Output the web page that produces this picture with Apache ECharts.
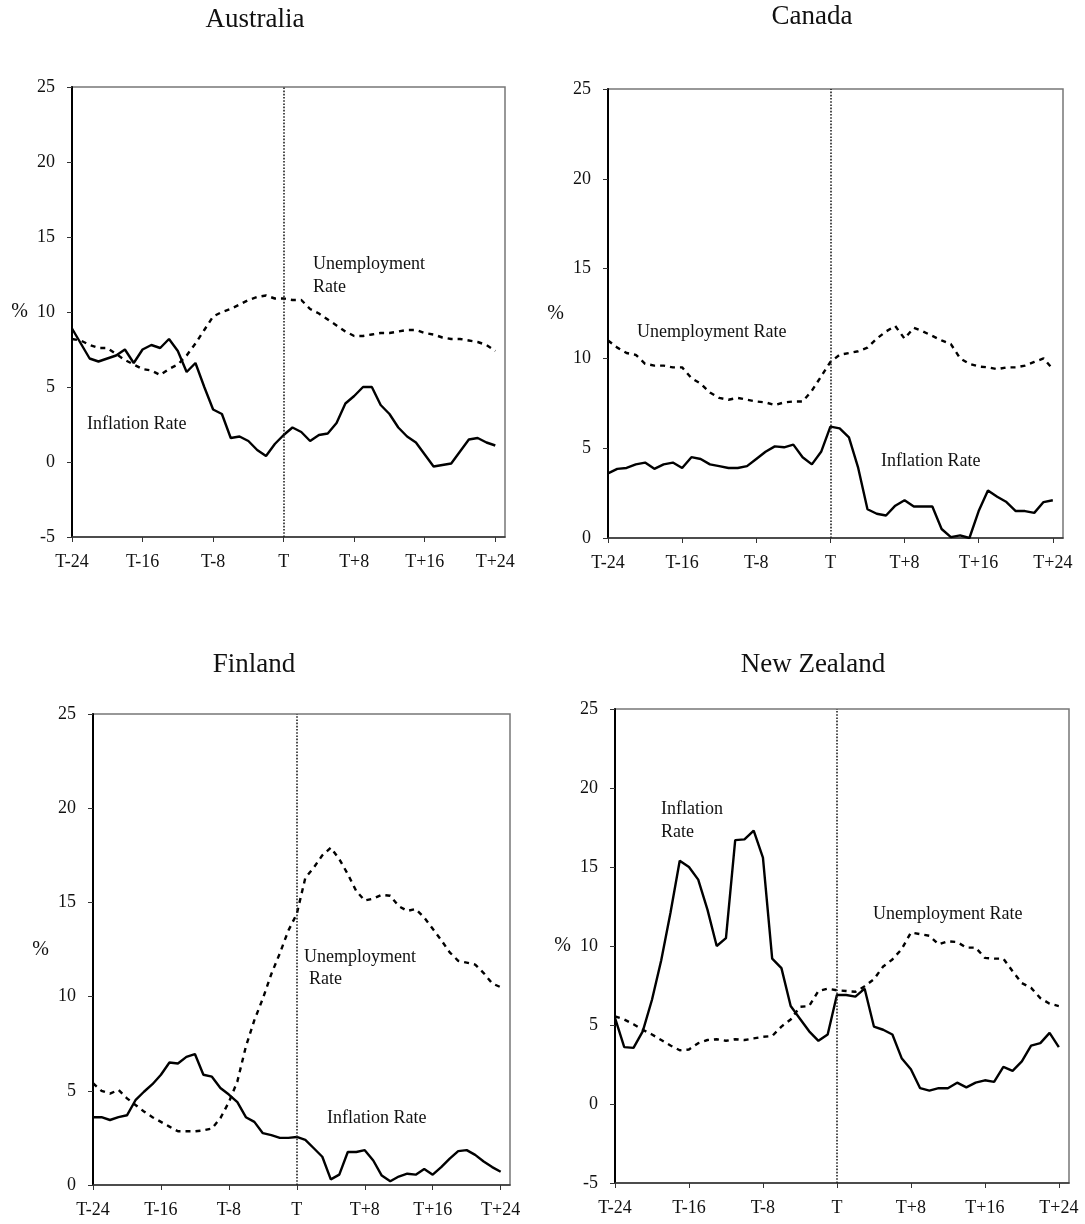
<!DOCTYPE html>
<html>
<head>
<meta charset="utf-8">
<script src="https://cdn.jsdelivr.net/npm/echarts@6/dist/echarts.min.js"></script>
<style>
  html, body { margin: 0; padding: 0; background: #fff; }
  #chart { width: 1085px; height: 1224px; }
</style>
</head>
<body>
<div id="chart"></div>
<script>
// quarters relative to the event date T
const quarters = Array.from({ length: 49 }, (_, i) => i - 24);
const tickValues = [-24, -16, -8, 0, 8, 16, 24];
const tickLabels = ["T-24", "T-16", "T-8", "T", "T+8", "T+16", "T+24"];

const ausInflation = [8.9, 7.9, 6.9, 6.7, 6.9, 7.1, 7.5, 6.6, 7.5, 7.8, 7.6, 8.2, 7.4, 6.0, 6.6, 5.0, 3.5, 3.2, 1.6, 1.7, 1.4, 0.8, 0.4, 1.2, 1.8, 2.3, 2.0, 1.4, 1.8, 1.9, 2.6, 3.9, 4.4, 5.0, 5.0, 3.8, 3.2, 2.3, 1.7, 1.3, 0.5, -0.3, -0.2, -0.1, 0.7, 1.5, 1.6, 1.3, 1.1];
const ausUnemployment = [8.2, 8.1, 7.8, 7.6, 7.6, 7.2, 6.8, 6.5, 6.2, 6.1, 5.8, 6.2, 6.5, 7.1, 7.9, 8.8, 9.7, 10.0, 10.2, 10.5, 10.8, 11.0, 11.1, 10.9, 10.9, 10.8, 10.8, 10.2, 9.9, 9.5, 9.1, 8.7, 8.4, 8.4, 8.5, 8.6, 8.6, 8.7, 8.8, 8.8, 8.6, 8.5, 8.3, 8.2, 8.2, 8.1, 8.0, 7.8, 7.4];

const canInflation = [3.6, 3.85, 3.9, 4.1, 4.2, 3.85, 4.1, 4.2, 3.9, 4.5, 4.4, 4.1, 4.0, 3.9, 3.9, 4.0, 4.4, 4.8, 5.1, 5.05, 5.2, 4.5, 4.1, 4.8, 6.2, 6.1, 5.6, 3.9, 1.6, 1.35, 1.25, 1.8, 2.1, 1.75, 1.75, 1.75, 0.5, 0.05, 0.15, 0.0, 1.5, 2.65, 2.3, 2.0, 1.5, 1.5, 1.4, 2.0, 2.1];
const canUnemployment = [11.0, 10.6, 10.3, 10.2, 9.7, 9.6, 9.6, 9.5, 9.5, 8.9, 8.6, 8.1, 7.8, 7.7, 7.8, 7.7, 7.6, 7.55, 7.4, 7.55, 7.6, 7.6, 8.2, 9.0, 9.8, 10.2, 10.3, 10.4, 10.6, 11.1, 11.5, 11.8, 11.1, 11.7, 11.5, 11.25, 11.0, 10.8, 10.0, 9.7, 9.55, 9.5, 9.4, 9.5, 9.5, 9.6, 9.8, 10.0, 9.4];

const finInflation = [3.6, 3.6, 3.45, 3.6, 3.7, 4.5, 4.95, 5.35, 5.85, 6.5, 6.45, 6.8, 6.95, 5.85, 5.75, 5.15, 4.8, 4.4, 3.6, 3.35, 2.75, 2.65, 2.5, 2.5, 2.55, 2.4, 1.95, 1.5, 0.3, 0.55, 1.75, 1.75, 1.85, 1.3, 0.5, 0.2, 0.45, 0.6, 0.55, 0.85, 0.55, 0.95, 1.4, 1.8, 1.85, 1.6, 1.25, 0.95, 0.7];
const finUnemployment = [5.4, 5.0, 4.85, 5.05, 4.6, 4.25, 3.9, 3.6, 3.35, 3.1, 2.85, 2.85, 2.85, 2.9, 3.0, 3.55, 4.4, 5.5, 7.35, 8.75, 9.9, 11.2, 12.3, 13.5, 14.4, 16.3, 16.85, 17.5, 17.9, 17.3, 16.5, 15.6, 15.1, 15.2, 15.4, 15.35, 14.8, 14.55, 14.65, 14.2, 13.6, 13.0, 12.35, 11.9, 11.8, 11.7, 11.25, 10.7, 10.5];

const nzInflation = [5.45, 3.6, 3.55, 4.6, 6.6, 9.1, 12.1, 15.4, 15.0, 14.2, 12.3, 10.0, 10.5, 16.7, 16.75, 17.3, 15.6, 9.2, 8.6, 6.2, 5.4, 4.6, 4.0, 4.4, 6.9, 6.9, 6.8, 7.3, 4.9, 4.7, 4.4, 2.9, 2.2, 1.0, 0.85, 1.0, 1.0, 1.35, 1.05, 1.35, 1.5, 1.4, 2.35, 2.1, 2.7, 3.7, 3.85, 4.5, 3.6];
const nzUnemployment = [5.55, 5.35, 5.05, 4.7, 4.4, 4.05, 3.7, 3.4, 3.45, 3.85, 4.05, 4.1, 4.0, 4.1, 4.05, 4.15, 4.25, 4.3, 4.9, 5.35, 6.15, 6.2, 7.15, 7.3, 7.2, 7.15, 7.1, 7.45, 7.9, 8.7, 9.15, 9.8, 10.85, 10.75, 10.65, 10.1, 10.3, 10.25, 9.9, 9.9, 9.25, 9.2, 9.2, 8.4, 7.65, 7.35, 6.7, 6.35, 6.2];

const FONT = "'Liberation Serif', 'Times New Roman', serif";

// one entry per panel: title, axis range, grid box, annotation texts
const panels = [
  { name: "Australia", infl: ausInflation, unemp: ausUnemployment, yMin: -5,
    grid: { left: 72, top: 87, width: 433, height: 450 }, titleX: 255, titleY: 6,
    notes: [["Unemployment", 313, 265], ["Rate", 313, 288], ["Inflation Rate", 87, 425]] },
  { name: "Canada", infl: canInflation, unemp: canUnemployment, yMin: 0,
    grid: { left: 608, top: 89, width: 455, height: 449 }, titleX: 812, titleY: 3,
    notes: [["Unemployment Rate", 637, 333], ["Inflation Rate", 881, 462]] },
  { name: "Finland", infl: finInflation, unemp: finUnemployment, yMin: 0,
    grid: { left: 93, top: 714, width: 417, height: 471 }, titleX: 254, titleY: 651,
    notes: [["Unemployment", 304, 958], ["Rate", 309, 980], ["Inflation Rate", 327, 1119]] },
  { name: "New Zealand", infl: nzInflation, unemp: nzUnemployment, yMin: -5,
    grid: { left: 615, top: 709, width: 454, height: 474 }, titleX: 813, titleY: 651,
    notes: [["Inflation", 661, 810], ["Rate", 661, 833], ["Unemployment Rate", 873, 915]] },
];

const pairs = (arr) => quarters.map((q, i) => [q, arr[i]]);

const option = {
  backgroundColor: "#fff",
  animation: false,
  title: panels.map((p) => ({
    text: p.name,
    left: p.titleX,
    top: p.titleY,
    textAlign: "center",
    padding: 0,
    textStyle: { fontFamily: FONT, fontSize: 27, fontWeight: "normal", color: "#111" },
  })),
  grid: panels.map((p) => ({
    ...p.grid,
    show: true,
    borderColor: "#777",
    borderWidth: 1.5,
    backgroundColor: "transparent",
  })),
  xAxis: panels.map((p, i) => ({
    type: "value",
    gridIndex: i,
    min: -24,
    max: 25.1,
    splitLine: { show: false },
    axisLine: { onZero: false, lineStyle: { color: "#333", width: 1.5 } },
    axisTick: { customValues: tickValues, length: 5, lineStyle: { color: "#333" } },
    axisLabel: {
      customValues: tickValues,
      formatter: (v) => tickLabels[tickValues.indexOf(v)] || "",
      margin: 16,
      fontFamily: FONT,
      fontSize: 18,
      color: "#111",
    },
  })),
  yAxis: panels.map((p, i) => ({
    type: "value",
    gridIndex: i,
    min: p.yMin,
    max: 25,
    interval: 5,
    name: "%",
    nameLocation: "middle",
    nameRotate: 0,
    nameGap: 44,
    nameTextStyle: { fontFamily: FONT, fontSize: 20, color: "#111" },
    splitLine: { show: false },
    axisLine: { show: true, onZero: false, lineStyle: { color: "#000", width: 2 } },
    axisTick: { show: true, length: 5, lineStyle: { color: "#333" } },
    axisLabel: { margin: 17, fontFamily: FONT, fontSize: 18, color: "#111" },
  })),
  series: panels.flatMap((p, i) => [
    {
      name: p.name + " inflation",
      type: "line",
      xAxisIndex: i,
      yAxisIndex: i,
      data: pairs(p.infl),
      showSymbol: false,
      lineStyle: { color: "#000", width: 2.4 },
      z: 3,
      markLine: {
        silent: true,
        symbol: "none",
        label: { show: false },
        lineStyle: { color: "#222", type: "dotted", width: 1.6 },
        data: [{ xAxis: 0 }],
      },
    },
    {
      name: p.name + " unemployment",
      type: "line",
      xAxisIndex: i,
      yAxisIndex: i,
      data: pairs(p.unemp),
      showSymbol: false,
      lineStyle: { color: "#000", width: 2.4, type: [5, 5] },
      z: 3,
    },
  ]),
  graphic: panels.flatMap((p) =>
    p.notes.map(([text, x, y]) => ({
      type: "text",
      left: x,
      top: y - 10,
      style: { text, fontFamily: FONT, fontSize: 18, fill: "#111" },
    }))
  ),
};

const chart = echarts.init(document.getElementById("chart"));
chart.setOption(option);
</script>
</body>
</html>
